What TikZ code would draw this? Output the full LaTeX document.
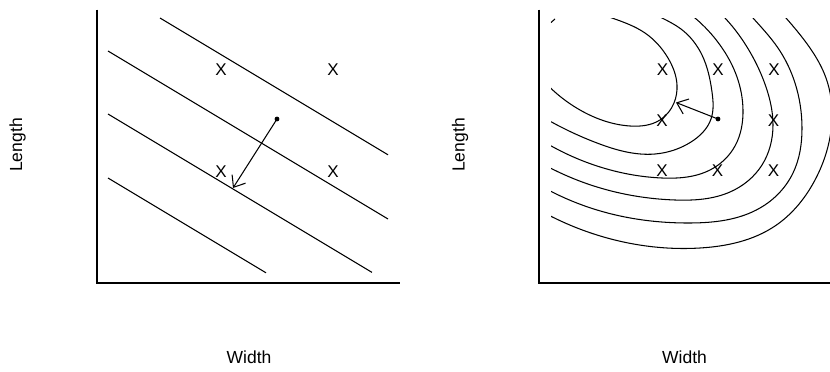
\documentclass[tikz,border=0pt]{standalone}
\usepackage{fontspec}
\setmainfont{Liberation Sans}
\usetikzlibrary{arrows.meta,hobby}
\begin{document}
\begin{tikzpicture}[x=1pt,y=-1pt,
  axis/.style={line width=1.3pt},
  curve/.style={line width=1.05pt},
  xmark/.style={font=\fontsize{17}{17}\selectfont, inner sep=0pt},
  lbl/.style={font=\fontsize{17.5}{17.5}\selectfont, inner sep=0pt},
  arr/.style={line width=1.05pt, -{Straight Barb[length=10pt,width=16pt]}},
  dotc/.style={circle, fill=black, inner sep=0pt, minimum size=4.8pt}]
\useasboundingbox (0,0) rectangle (830,372);

% ---------- left panel ----------
\coordinate (LO) at (97,283);
\coordinate (LT) at (97,9.5);
\coordinate (LR) at (400,283);
\draw[axis] (LT) -- (LO) -- (LR);

\draw[curve] (160,18) -- (388,154.8);
\draw[curve] (108,51) -- (388,219);
\draw[curve] (108,114) -- (372,272.4);
\draw[curve] (108,178) -- (266,272.8);

\node[xmark] (l1) at (221,70) {X};
\node[xmark] (l2) at (333,70) {X};
\node[xmark] (l3) at (221,171.5) {X};
\node[xmark] (l4) at (333,171.5) {X};

\node[dotc] (ldot) at (277,119) {};
\coordinate (ltip) at (233,188);
\draw[arr] (ldot.center) -- (ltip);

\node[lbl, rotate=90] (lenL) at (17.5,145) {Length};
\node[lbl] (widL) at (249,357) {Width};

% ---------- right panel ----------
\coordinate (RO) at (539,283);
\coordinate (RT) at (539,9.5);
\coordinate (RR) at (830,283);
\draw[axis] (RT) -- (RO) -- (RR);

\begin{scope}
\clip (551,18) rectangle (830,290);
\draw[curve, use Hobby shortcut] (541,78) .. (580,110) .. (630,126) .. (660,120) .. (674,103) .. (677,85) .. (668,58) .. (645,33) .. (612,18) .. (595,12);
\draw[curve, use Hobby shortcut] (541,116) .. (597,143) .. (655,154) .. (691,142) .. (711,119) .. (712,92) .. (702,55) .. (681,29) .. (662,18) .. (650,12);
\draw[curve, use Hobby shortcut] (541,140) .. (597,166) .. (662,178) .. (710,170) .. (735,146) .. (743,110) .. (737,77) .. (720,45) .. (695,18) .. (686,11);
\draw[curve, use Hobby shortcut] (541,163) .. (597,187) .. (675,200) .. (730,192) .. (762,165) .. (773,125) .. (766,87) .. (750,52) .. (725,18) .. (717,10);
\draw[curve, use Hobby shortcut] (541,186) .. (597,210) .. (690,223) .. (760,208) .. (793,173) .. (802,128) .. (795,83) .. (778,48) .. (753,18) .. (745,9);
\draw[curve, use Hobby shortcut] (541,211) .. (597,235) .. (700,248) .. (775,226) .. (815,180) .. (832,118) .. (826,78) .. (810,48) .. (786,18) .. (778,9);
\end{scope}
\draw[curve] (551,22.5) -- (555,19);

\node[xmark] (r1) at (662.5,70) {X};
\node[xmark] (r2) at (718,70) {X};
\node[xmark] (r3) at (774,70) {X};
\node[xmark] (r4) at (662,120.5) {X};
\node[xmark] (r5) at (773.5,121) {X};
\node[xmark] (r6) at (662,171) {X};
\node[xmark] (r7) at (717.5,171) {X};
\node[xmark] (r8) at (773.5,171) {X};

\node[dotc] (rdot) at (718,119) {};
\coordinate (rtip) at (676,102.5);
\draw[arr] (rdot.center) -- (rtip);

\node[lbl, rotate=90] (lenR) at (460,145) {Length};
\node[lbl] (widR) at (684.5,357) {Width};
\end{tikzpicture}
\end{document}
